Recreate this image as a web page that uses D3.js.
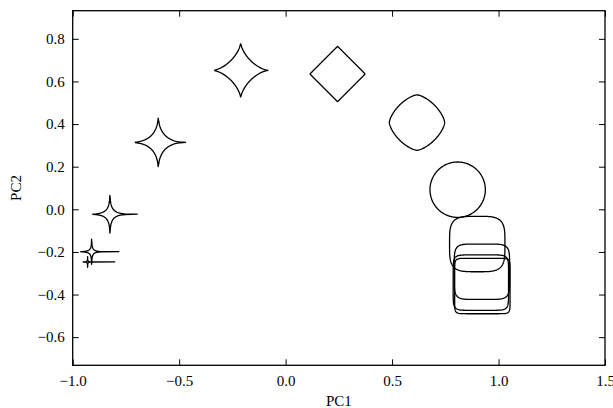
<!DOCTYPE html>
<html>
<head>
<meta charset="utf-8">
<script src="https://cdn.jsdelivr.net/npm/d3@7"></script>
<style>
  html, body { margin: 0; padding: 0; background: #fff; }
  svg { display: block; }
</style>
</head>
<body>
<div id="chart"></div>
<script>
// Superellipse shapes placed in principal-component space

// shape centres (PC1, PC2) and superellipse exponent of each outline
const pc1 = [-0.930, -0.911, -0.825, -0.598, -0.211, 0.244, 0.617, 0.808, 0.900, 0.922, 0.917, 0.924];
const pc2 = [-0.247, -0.199, -0.023, 0.314, 0.652, 0.635, 0.407, 0.092, -0.163, -0.293, -0.344, -0.360];
const exponents = [0.19, 0.27, 0.36, 0.5, 0.67, 1, 1.5, 2, 4, 6, 8, 12];
const shapeSize = 0.13;   // half-width of every outline, in PC units

const xTicks = [-1.0, -0.5, 0.0, 0.5, 1.0, 1.5];
const yTicks = [-0.6, -0.4, -0.2, 0.0, 0.2, 0.4, 0.6, 0.8];
const xDomain = [-1.0, 1.5];
const yDomain = [-0.732, 0.932];

const width = 613, height = 408;
const margin = { top: 10.7, right: 8, bottom: 42.7, left: 72.7 };
const nSamples = 316;
const serif = '"Liberation Serif", "DejaVu Serif", "Times New Roman", serif';

const svg = d3.select('#chart')
  .append('svg')
  .attr('width', width)
  .attr('height', height)
  .attr('font-family', serif);

const x = d3.scaleLinear().domain(xDomain).range([margin.left, width - margin.right]);
const y = d3.scaleLinear().domain(yDomain).range([height - margin.bottom, margin.top]);

const fmt = v => d3.format('.1f')(v).replace('-', '\u2212');

// outlines: polar superellipse r = (|cos t|^n + |sin t|^n)^(-1/n)
const line = d3.line().x(d => x(d[0])).y(d => y(d[1]));
const shapes = exponents.map((n, i) => {
  const pts = [];
  for (let k = 0; k < nSamples; k++) {
    const t = 2 * Math.PI * k / (nSamples - 1);
    const c = Math.cos(t), s = Math.sin(t);
    const r = Math.pow(Math.pow(Math.abs(c), n) + Math.pow(Math.abs(s), n), -1 / n);
    pts.push([pc1[i] + shapeSize * r * c, pc2[i] + shapeSize * r * s]);
  }
  return pts;
});

svg.append('g')
  .selectAll('path')
  .data(shapes)
  .enter()
  .append('path')
  .attr('d', line)
  .attr('fill', 'none')
  .attr('stroke', '#000')
  .attr('stroke-width', 1.3)
  .attr('stroke-linejoin', 'round');

// axes: ticks point inward on all four sides
const tickLen = 6;
const bottomAxis = d3.axisBottom(x).tickValues(xTicks).tickSize(-tickLen).tickPadding(10).tickFormat(fmt);
const topAxis = d3.axisTop(x).tickValues(xTicks).tickSize(-tickLen).tickFormat('');
const leftAxis = d3.axisLeft(y).tickValues(yTicks).tickSize(-tickLen).tickPadding(8).tickFormat(fmt);
const rightAxis = d3.axisRight(y).tickValues(yTicks).tickSize(-tickLen).tickFormat('');

const styleAxis = g => {
  g.attr('font-family', serif).attr('font-size', 15);
  g.select('.domain').remove();
  g.selectAll('.tick line').attr('stroke', '#000').attr('stroke-width', 1);
  g.selectAll('.tick text').attr('fill', '#000');
};

svg.append('g').attr('transform', `translate(0,${y.range()[0]})`).call(bottomAxis).call(styleAxis);
svg.append('g').attr('transform', `translate(0,${y.range()[1]})`).call(topAxis).call(styleAxis);
svg.append('g').attr('transform', `translate(${x.range()[0]},0)`).call(leftAxis).call(styleAxis);
svg.append('g').attr('transform', `translate(${x.range()[1]},0)`).call(rightAxis).call(styleAxis);

// frame
svg.append('rect')
  .attr('x', x.range()[0])
  .attr('y', y.range()[1])
  .attr('width', x.range()[1] - x.range()[0])
  .attr('height', y.range()[0] - y.range()[1])
  .attr('fill', 'none')
  .attr('stroke', '#000')
  .attr('stroke-width', 1.3);

// axis labels
svg.append('text')
  .attr('x', (x.range()[0] + x.range()[1]) / 2)
  .attr('y', 406)
  .attr('text-anchor', 'middle')
  .attr('font-size', 15)
  .text('PC1');

svg.append('text')
  .attr('transform', `translate(21,${(y.range()[0] + y.range()[1]) / 2}) rotate(-90)`)
  .attr('text-anchor', 'middle')
  .attr('font-size', 15)
  .text('PC2');
</script>
</body>
</html>
